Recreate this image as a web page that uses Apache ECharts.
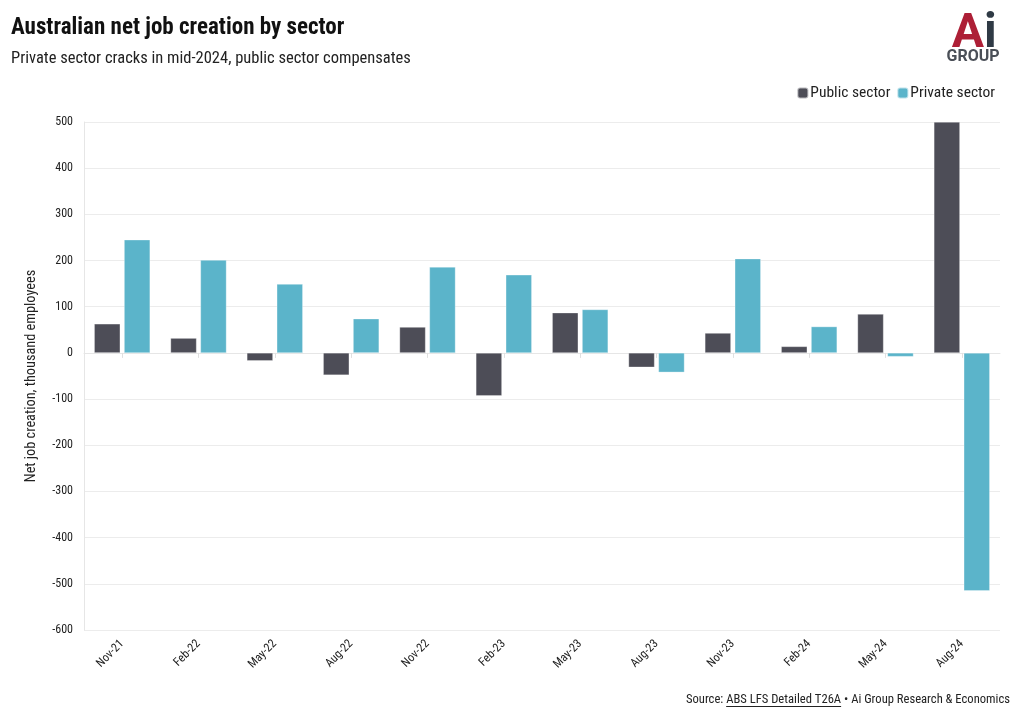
<!DOCTYPE html>
<html>
<head>
<meta charset="utf-8">
<script src="https://cdn.jsdelivr.net/npm/echarts@6/dist/echarts.min.js"></script>
<style>
html,body{margin:0;padding:0;background:#fff;}
#chart{width:1020px;height:717px;}
</style>
</head>
<body>
<div id="chart"></div>
<script>
const categories = ['Nov-21','Feb-22','May-22','Aug-22','Nov-22','Feb-23','May-23','Aug-23','Nov-23','Feb-24','May-24','Aug-24'];
const publicSector = [63, 32, -17, -48, 56, -93, 87, -31, 43, 14, 84, 500];
const privateSector = [245, 201, 149, 74, 186, 169, 94, -42, 204, 57, -8, -515];
const yTicks = {min: -600, max: 500, interval: 100};

const FONT = "'Roboto Condensed', 'Liberation Sans Narrow', 'DejaVu Sans Condensed', 'Arial Narrow', Roboto, sans-serif";
const TXT = '#222';

const chart = echarts.init(document.getElementById('chart'));

// source line pieces (measured for placement)
const srcParts = [
  {t: 'Source: ', u: false},
  {t: 'ABS LFS Detailed T26A', u: true},
  {t: ' \u2022 Ai Group Research & Economics', u: false}
];
const SRC_FONT = '12.6px ' + FONT;
const mctx = document.createElement('canvas').getContext('2d');
mctx.font = SRC_FONT;
const widths = srcParts.map(p => mctx.measureText(p.t).width);
const total = widths.reduce((a, b) => a + b, 0);
let sx = 1010 - total;
const srcY = 693;
const srcEls = [];
srcParts.forEach((p, i) => {
  srcEls.push({type: 'text', x: sx, y: srcY, style: {text: p.t, font: SRC_FONT, fill: TXT, textAlign: 'left', textVerticalAlign: 'top'}});
  if (p.u) {
    srcEls.push({type: 'line', shape: {x1: sx, y1: srcY + 13.5, x2: sx + widths[i], y2: srcY + 13.5}, style: {stroke: TXT, lineWidth: 1}});
  }
  sx += widths[i];
});

const option = {
  backgroundColor: '#fff',
  animation: false,
  textStyle: {fontFamily: FONT},
  title: {
    text: 'Australian net job creation by sector',
    subtext: 'Private sector cracks in mid-2024, public sector compensates',
    left: 6, top: 12,
    itemGap: 10,
    textStyle: {fontFamily: FONT, fontSize: 23, fontWeight: 'bold', color: '#111'},
    subtextStyle: {fontFamily: FONT, fontSize: 16.5, color: TXT}
  },
  legend: {
    right: 20, top: 80,
    itemWidth: 11, itemHeight: 11, itemGap: 6,
    icon: 'roundRect',
    textStyle: {fontFamily: FONT, fontSize: 15.5, color: TXT, padding: [0, 0, 0, -3]},
    data: ['Public sector', 'Private sector']
  },
  grid: {left: 84, right: 20, top: 122, bottom: 87, containLabel: false},
  xAxis: {
    type: 'category',
    data: categories,
    axisLine: {show: true, lineStyle: {color: '#e6e6e6'}},
    axisTick: {show: true, alignWithLabel: true, length: 5, lineStyle: {color: '#e0e0e0'}},
    axisLabel: {rotate: 45, fontSize: 12, color: TXT, fontFamily: FONT, margin: 12},
    splitLine: {show: false}
  },
  yAxis: {
    type: 'value',
    min: yTicks.min, max: yTicks.max, interval: yTicks.interval,
    name: 'Net job creation, thousand employees',
    nameLocation: 'middle',
    nameGap: 46,
    nameTextStyle: {fontFamily: FONT, fontSize: 14.3, color: TXT},
    axisLine: {show: true, lineStyle: {color: '#e6e6e6'}},
    axisTick: {show: false},
    axisLabel: {fontSize: 12, color: TXT, fontFamily: FONT, margin: 11},
    splitLine: {show: true, lineStyle: {color: '#ececec'}}
  },
  series: [
    {
      name: 'Public sector', type: 'bar', data: publicSector,
      barWidth: 26, barGap: '15%',
      itemStyle: {color: '#4d4d57', borderColor: 'rgba(255,255,255,0.6)', borderWidth: 0.5}
    },
    {
      name: 'Private sector', type: 'bar', data: privateSector,
      barWidth: 26, barGap: '15%',
      itemStyle: {color: '#5bb4ca', borderColor: 'rgba(255,255,255,0.6)', borderWidth: 0.5}
    }
  ],
  graphic: [
    {type: 'text', x: 984, y: 11, style: {text: 'A', font: 'bold 48px Roboto, sans-serif', fill: '#ad1f36', textAlign: 'right', textVerticalAlign: 'top'}},
    {type: 'text', x: 984, y: 11, style: {text: 'i', font: 'bold 48px Roboto, sans-serif', fill: '#2f3a45', textAlign: 'left', textVerticalAlign: 'top'}},
    {type: 'text', x: 973, y: 49, style: {text: 'GROUP', font: 'bold 16px Roboto, sans-serif', fill: '#4a4f57', textAlign: 'center', textVerticalAlign: 'top'}}
  ].concat(srcEls)
};
chart.setOption(option);
</script>
</body>
</html>
